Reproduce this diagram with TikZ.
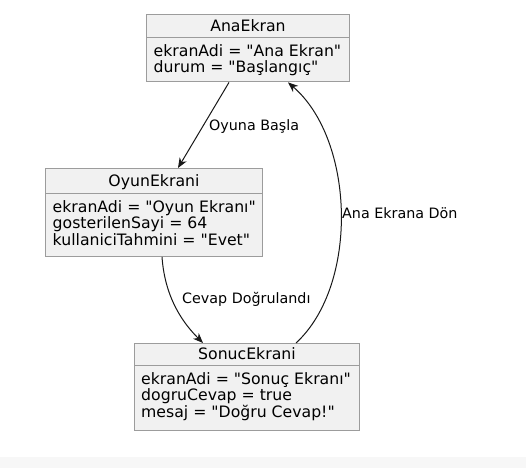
\documentclass[tikz,border=0pt]{standalone}
\usepackage{fontspec}
\setmainfont{DejaVu Sans}[Ligatures=TeXOff]
\usetikzlibrary{arrows.meta,calc}
\definecolor{boxfill}{HTML}{F1F1F1}
\definecolor{boxline}{HTML}{9C9C9C}
\definecolor{ink}{HTML}{181818}
\definecolor{band}{HTML}{F7F7F7}
\begin{document}
\begin{tikzpicture}[x=1pt,y=-1pt,
 objbox/.style={draw=boxline, line width=0.9pt, fill=boxfill, inner sep=0pt, anchor=north west},
 sep/.style={draw=boxline, line width=0.9pt},
 titletext/.style={font=\fontsize{15.7}{16.5}\selectfont, anchor=base, inner sep=0pt},
 field/.style={font=\fontsize{15.7}{16.5}\selectfont, anchor=base west, inner sep=0pt},
 lbl/.style={font=\fontsize{14.3}{16}\selectfont, anchor=west, inner sep=0pt},
 conn/.style={draw=ink, line width=1pt, -{Stealth[length=10pt,width=8pt,inset=3pt]}}]
\useasboundingbox (0,0) rectangle (526,468);
\fill[white] (0,0) rectangle (526,468);
\fill[band] (0,457) rectangle (526,468);

% AnaEkran
\node[objbox, minimum width=203pt, minimum height=67.5pt] (ana) at (146,14) {};
\draw[sep] ($(ana.north west)+(0,23.5)$) -- ($(ana.north east)+(0,23.5)$);
\node[titletext] (anaT) at ($(ana.north)+(0,17.5)$) {AnaEkran};
\node[field] (ana1) at (153.5,56.5) {ekranAdi = "Ana Ekran"};
\node[field] (ana2) at (153.5,73) {durum = "Başlangıç"};

% OyunEkrani
\node[objbox, minimum width=217pt, minimum height=88pt] (oyun) at (45,168) {};
\draw[sep] ($(oyun.north west)+(0,25)$) -- ($(oyun.north east)+(0,25)$);
\node[titletext] (oyunT) at ($(oyun.north)+(0,18.5)$) {OyunEkrani};
\node[field] (oyun1) at (52.5,212) {ekranAdi = "Oyun Ekranı"};
\node[field] (oyun2) at (52.5,228.5) {gosterilenSayi = 64};
\node[field] (oyun3) at (52.5,245) {kullaniciTahmini = "Evet"};

% SonucEkrani
\node[objbox, minimum width=225pt, minimum height=87pt] (sonuc) at (134,343) {};
\draw[sep] ($(sonuc.north west)+(0,22)$) -- ($(sonuc.north east)+(0,22)$);
\node[titletext] (sonucT) at ($(sonuc.north)+(0,16.5)$) {SonucEkrani};
\node[field] (sonuc1) at (141,384) {ekranAdi = "Sonuç Ekranı"};
\node[field] (sonuc2) at (141,400.5) {dogruCevap = true};
\node[field] (sonuc3) at (141,417) {mesaj = "Doğru Cevap!"};

% connectors
\draw[conn] ($(ana.south west)+(83,0)$) -- ($(oyun.north west)+(133,0)$);
\node[lbl] (l1) at (209,127) {Oyuna Başla};

\draw[conn] ($(oyun.south west)+(117,0)$) .. controls (165,300) and (185,325) .. ($(sonuc.north west)+(69,0)$);
\node[lbl] (l2) at (182,299) {Cevap Doğrulandı};

\draw[conn] ($(sonuc.north west)+(162,0)$) .. controls (359,285) and (355,140) .. ($(ana.south west)+(142,0)$);
\node[lbl] (l3) at (342,213) {Ana Ekrana Dön};
\end{tikzpicture}
\end{document}
